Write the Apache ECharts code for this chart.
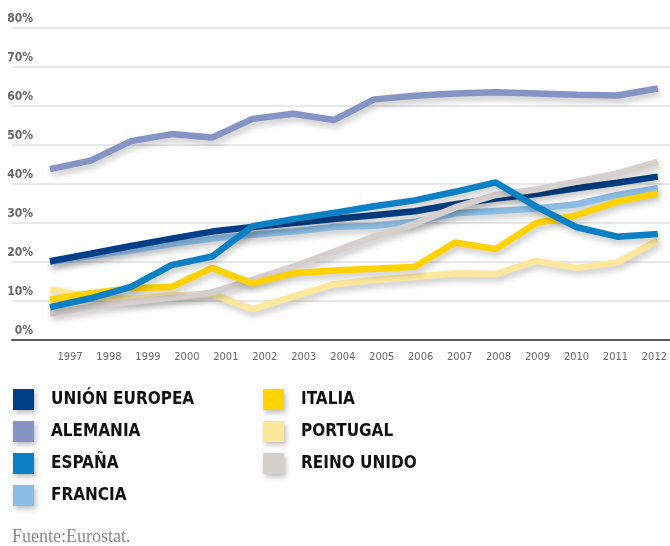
<!DOCTYPE html>
<html>
<head>
<meta charset="utf-8">
<script src="https://cdn.jsdelivr.net/npm/echarts@6/dist/echarts.min.js"></script>
<style>
  html, body { margin: 0; padding: 0; background: #fff; }
  #chart { width: 670px; height: 546px; }
</style>
</head>
<body>
<div id="chart"></div>
<script>
const years = [1997, 1998, 1999, 2000, 2001, 2002, 2003, 2004, 2005, 2006, 2007, 2008, 2009, 2010, 2011, 2012]
const yearLabels = ['1997', '1998', '1999', '2000', '2001', '2002', '2003', '2004', '2005', '2006', '2007', '2008', '2009', '2010', '2011', '2012']

const unionEuropea = [20.2, 22.1, 24.1, 26, 27.8, 29, 30, 31, 32, 33, 34.8, 36.3, 37.4, 38.9, 40.3, 41.9]
const alemania = [43.8, 46, 51, 52.8, 51.9, 56.7, 58, 56.4, 61.7, 62.6, 63.2, 63.5, 63.2, 62.9, 62.7, 64.5]
const espana = [8.4, 10.7, 13.6, 19.2, 21.4, 29.2, 31, 32.6, 34.3, 35.8, 38, 40.4, 34.2, 28.9, 26.5, 27.2]
const francia = [20, 21.5, 23, 24.6, 26, 27, 27.8, 29, 29.3, 30.3, 32.5, 33.1, 33.7, 34.8, 37.2, 38.9]
const italia = [10.3, 12, 13.3, 13.6, 18.5, 14.5, 17.1, 17.8, 18.3, 18.8, 25, 23.3, 30, 32, 35.5, 37.6]
const portugal = [13, 11.1, 10.5, 11.4, 11.8, 7.9, 11.1, 14.3, 15.4, 16.2, 17.1, 16.9, 20.3, 18.5, 19.9, 25.6]
const reinoUnido = [6.8, 8.5, 9.8, 10.8, 12.2, 15.4, 18.8, 22.6, 26.5, 29.8, 34, 37.2, 38.6, 40.6, 42.7, 45.7]

const legendLeft = ['UNIÓN EUROPEA', 'ALEMANIA', 'ESPAÑA', 'FRANCIA']
const legendRight = ['ITALIA', 'PORTUGAL', 'REINO UNIDO']

const narrowFont = '"DejaVu Sans Condensed", "Liberation Sans Narrow", Roboto, sans-serif'

// drawing order: later series lie on top
const seriesDefs = [
  { name: 'ALEMANIA', values: alemania, color: '#8593c5' },
  { name: 'PORTUGAL', values: portugal, color: '#fde79c' },
  { name: 'FRANCIA', values: francia, color: '#8cbde5' },
  { name: 'UNIÓN EUROPEA', values: unionEuropea, color: '#003f87' },
  { name: 'REINO UNIDO', values: reinoUnido, color: '#d5d0cd' },
  { name: 'ITALIA', values: italia, color: '#ffd200' },
  { name: 'ESPAÑA', values: espana, color: '#0b80c5' }
]

const chart = echarts.init(document.getElementById('chart'))

const legendBase = {
  orient: 'vertical',
  top: 389,
  padding: 0,
  icon: 'rect',
  itemWidth: 21,
  itemHeight: 21,
  itemGap: 11,
  selectedMode: false,
  itemStyle: {
    shadowColor: 'rgba(0,0,0,0.25)',
    shadowBlur: 5,
    shadowOffsetX: 2,
    shadowOffsetY: 3
  },
  textStyle: {
    fontFamily: narrowFont,
    fontWeight: 'bold',
    fontSize: 17,
    color: '#111',
    padding: [0, 0, 0, 12]
  }
}

const option = {
  animation: false,
  grid: [
    { left: 12, right: 0, top: 28, bottom: 206 },
    { left: 70, right: 13, top: 342, height: 1 }
  ],
  xAxis: [
    {
      type: 'value',
      gridIndex: 0,
      min: 1996.0625,
      max: 2012.3,
      axisLine: { show: true, lineStyle: { color: '#5a5a5a', width: 2 } },
      axisTick: { show: false },
      axisLabel: { show: false },
      splitLine: { show: false }
    },
    {
      type: 'category',
      gridIndex: 1,
      data: yearLabels,
      boundaryGap: false,
      axisLine: { show: false },
      axisTick: { show: false },
      axisLabel: {
        margin: 9,
        fontFamily: narrowFont,
        fontSize: 11,
        color: '#666'
      }
    }
  ],
  yAxis: [
    {
      type: 'value',
      gridIndex: 0,
      min: 0,
      max: 80,
      interval: 10,
      axisLine: { show: false },
      axisTick: { show: false },
      axisLabel: {
        inside: true,
        margin: 21,
        align: 'right',
        verticalAlign: 'bottom',
        padding: [0, 0, 3, 0],
        fontFamily: narrowFont,
        fontWeight: 'bold',
        fontSize: 12,
        color: '#666',
        formatter: '{value}%'
      },
      splitLine: { lineStyle: { color: '#e0e0e0', width: 1.5 } }
    },
    { type: 'value', gridIndex: 1, show: false }
  ],
  legend: [
    Object.assign({}, legendBase, { left: 13, data: legendLeft }),
    Object.assign({}, legendBase, { left: 263, data: legendRight })
  ],
  graphic: [
    {
      type: 'text',
      left: 12,
      top: 528,
      style: {
        text: 'Fuente:Eurostat.',
        fontFamily: '"Liberation Serif", serif',
        fontSize: 18,
        fill: '#8a8a8a'
      }
    }
  ],
  series: seriesDefs.map(s => ({
    name: s.name,
    type: 'line',
    xAxisIndex: 0,
    yAxisIndex: 0,
    data: years.map((y, i) => [y, s.values[i]]),
    showSymbol: false,
    symbol: 'none',
    color: s.color,
    lineStyle: {
      width: 6.5,
      color: s.color,
      shadowColor: 'rgba(0,0,0,0.22)',
      shadowBlur: 6,
      shadowOffsetX: 2,
      shadowOffsetY: 4
    }
  }))
}

chart.setOption(option)
window.addEventListener('resize', () => chart.resize())
</script>
</body>
</html>
